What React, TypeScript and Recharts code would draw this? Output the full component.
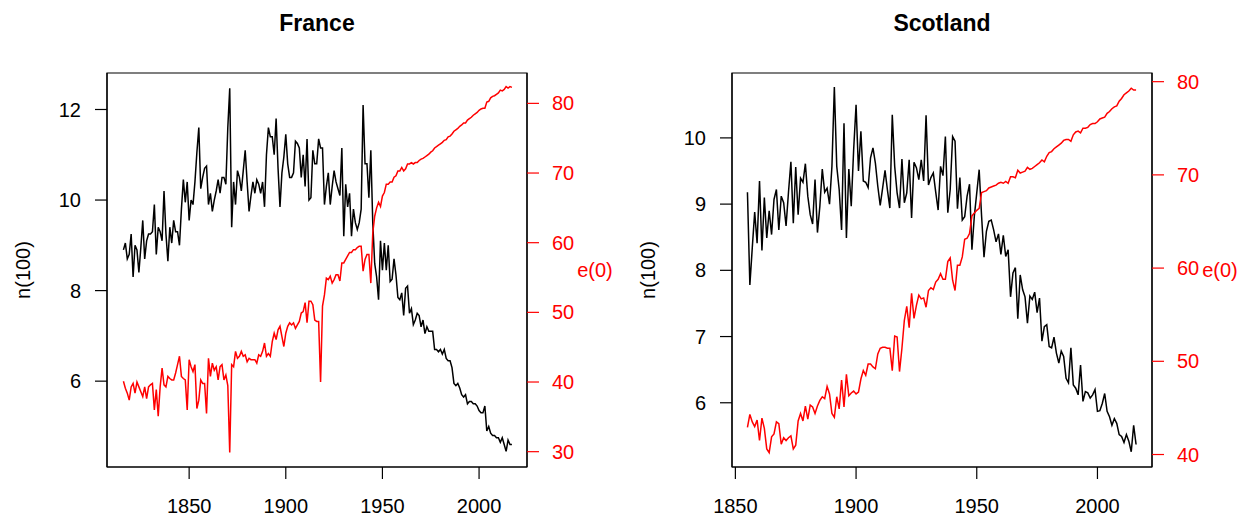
import { LineChart, Line, XAxis, YAxis, Label, ReferenceArea } from "recharts";

// France, 1816-2017
const franceStart = 1816;
const franceN = [
  8.9, 9.05, 8.7, 8.8, 9.25, 8.3, 9.0, 8.9, 8.4, 8.95,
  9.55, 8.7, 9.1, 9.25, 9.25, 9.3, 9.9, 8.8, 9.4, 9.3,
  9.1, 10.2, 9.25, 8.65, 9.4, 9.05, 9.55, 9.3, 9.3, 9.0,
  9.8, 10.45, 9.95, 10.4, 9.55, 10.0, 9.9, 10.4, 11.05, 11.6,
  10.25, 10.5, 10.7, 10.75, 9.9, 10.15, 9.75, 10.0, 10.2, 10.45,
  10.15, 10.5, 10.5, 10.35, 11.6, 12.47, 9.4, 10.4, 9.9, 10.65,
  10.5, 10.2, 10.65, 11.1, 10.4, 9.75, 10.1, 10.4, 10.15, 10.45,
  10.35, 10.15, 10.4, 9.85, 11.0, 11.6, 11.4, 11.4, 11.0, 11.8,
  10.7, 9.85, 10.6, 10.95, 11.45, 10.8, 10.5, 10.5, 10.6, 11.3,
  11.25, 11.15, 10.5, 11.0, 10.3, 11.35, 10.0, 10.05, 11.1, 10.8,
  10.8, 11.35, 11.15, 11.15, 9.9, 10.3, 10.6, 9.9, 10.3, 10.65,
  10.4, 10.25, 10.1, 11.15, 9.2, 10.35, 9.85, 10.15, 9.2, 9.8,
  9.5, 9.35, 9.5, 9.8, 12.1, 10.8, 10.8, 10.05, 11.1, 9.5,
  8.6, 8.3, 7.8, 9.1, 8.45, 9.05, 8.45, 9.0, 8.2, 8.25,
  8.7, 8.35, 7.85, 7.8, 7.95, 7.45, 8.05, 8.1, 7.5, 7.6,
  7.25, 7.35, 7.5, 7.45, 7.2, 7.35, 7.05, 7.2, 7.1, 7.1,
  7.1, 6.7, 6.7, 6.65, 6.7, 6.6, 6.7, 6.5, 6.45, 6.45,
  6.3, 5.95, 5.9, 5.95, 5.85, 5.7, 5.65, 5.7, 5.5, 5.55,
  5.55, 5.5, 5.5, 5.45, 5.35, 5.3, 5.3, 5.45, 4.9, 5.0,
  4.85, 4.8, 4.8, 4.75, 4.75, 4.65, 4.75, 4.6, 4.45, 4.7, 4.6, 4.6,
];
const franceE0 = [
  40.1, 39.1, 38.4, 37.4, 39.3, 39.8, 38.4, 40.0, 39.3, 38.6,
  37.9, 39.3, 37.6, 39.3, 39.6, 39.8, 36.0, 38.9, 35.1, 39.3,
  42.0, 39.6, 39.3, 40.8, 40.5, 40.3, 40.3, 41.3, 42.5, 43.7,
  40.8, 40.5, 40.3, 36.0, 43.2, 42.2, 41.5, 42.5, 36.2, 37.4,
  40.3, 39.8, 39.8, 35.5, 43.4, 40.8, 42.7, 41.7, 42.2, 40.3,
  42.2, 42.5, 40.3, 41.0, 39.5, 29.9, 42.5, 42.2, 44.4, 43.4,
  43.7, 44.4, 43.7, 43.9, 42.9, 43.4, 43.2, 43.2, 43.2, 42.7,
  43.9, 43.7, 44.4, 45.6, 43.7, 44.1, 43.7, 45.8, 47.0, 46.1,
  47.5, 48.0, 46.5, 45.1, 47.0, 48.0, 48.5, 48.2, 48.5, 47.7,
  48.2, 48.7, 49.9, 50.1, 51.4, 48.5, 51.6, 51.6, 51.1, 48.9,
  48.7, 48.7, 40.0, 50.9, 52.5, 54.9, 54.7, 55.2, 54.2, 54.7,
  55.4, 55.4, 54.5, 57.1, 57.1, 57.6, 58.1, 58.6, 58.6, 59.0,
  59.0, 59.3, 59.5, 59.5, 55.9, 57.6, 58.3, 58.3, 54.2, 61.4,
  63.8, 65.0, 65.8, 65.2, 66.7, 67.2, 68.4, 68.4, 68.7, 68.7,
  69.4, 69.6, 70.3, 70.3, 70.8, 70.3, 70.6, 71.3, 71.3, 71.5,
  71.3, 71.5, 71.5, 71.8, 72.0, 72.1, 72.3, 72.5, 72.7, 73.0,
  73.2, 73.6, 73.8, 74.0, 74.2, 74.4, 74.7, 74.8, 75.2, 75.3,
  75.6, 76.0, 76.2, 76.4, 76.7, 76.9, 77.2, 77.2, 77.6, 77.8,
  78.0, 78.3, 78.5, 78.7, 79.0, 79.2, 79.3, 79.3, 80.2, 80.3,
  80.8, 81.0, 81.1, 81.3, 81.5, 81.9, 81.8, 82.0, 82.4, 82.2, 82.4, 82.3,
];

// Scotland, 1855-2016
const scotlandStart = 1855;
const scotlandN = [
  9.18, 7.78, 8.34, 8.88, 8.41, 9.35, 8.3, 9.1, 8.49, 8.9,
  8.54, 9.07, 9.22, 8.61, 9.12, 9.02, 8.67, 9.18, 9.64, 8.71,
  9.56, 8.84, 9.39, 9.33, 9.61, 9.12, 8.84, 8.7, 9.37, 8.57,
  8.97, 9.53, 9.18, 9.24, 9.0, 9.57, 10.77, 9.57, 9.22, 8.61,
  10.22, 8.49, 9.53, 8.97, 9.82, 10.5, 9.5, 10.1, 9.35, 9.33,
  9.25, 9.7, 9.85, 9.62, 9.27, 8.98, 9.24, 9.51, 9.21, 8.94,
  10.35, 9.57, 9.17, 8.94, 9.68, 9.02, 9.17, 9.67, 8.79, 9.63,
  9.55, 9.37, 9.67, 9.35, 10.34, 9.29, 9.4, 9.47, 9.18, 8.91,
  9.57, 9.43, 10.02, 8.87, 9.22, 10.02, 9.95, 8.93, 9.4, 8.76,
  8.81, 9.12, 9.3, 8.31, 8.82, 9.17, 9.52, 8.82, 8.2, 8.59,
  8.74, 8.76, 8.61, 8.43, 8.55, 8.24, 8.53, 8.21, 8.31, 7.6,
  7.96, 8.04, 7.27, 7.93, 7.71, 7.6, 7.2, 7.61, 7.56, 7.67,
  7.36, 7.58, 6.93, 7.15, 7.18, 6.85, 6.83, 6.99, 6.75, 6.6,
  6.78, 6.7, 6.37, 6.3, 6.83, 6.27, 6.22, 6.12, 6.57, 6.02,
  6.17, 6.15, 6.07, 6.12, 6.2, 5.87, 5.88, 5.99, 6.14, 5.87,
  5.79, 5.66, 5.76, 5.69, 5.52, 5.49, 5.4, 5.52, 5.42, 5.26, 5.66, 5.37,
];
const scotlandE0 = [
  42.9, 44.3, 43.5, 43.0, 43.7, 41.5, 43.9, 42.8, 40.6, 40.2,
  41.9, 42.2, 43.5, 43.3, 41.1, 41.8, 41.5, 41.8, 42.0, 40.6,
  41.0, 43.6, 44.4, 43.6, 45.2, 43.8, 45.3, 45.1, 44.4, 45.2,
  45.8, 46.2, 46.0, 47.3, 46.5, 44.4, 44.0, 46.2, 44.9, 48.0,
  45.1, 48.6, 46.3, 46.6, 46.8, 46.5, 46.7, 48.1, 49.0, 48.5,
  49.7, 49.7, 49.4, 49.2, 50.8, 51.4, 51.5, 51.5, 51.4, 51.4,
  49.0, 52.7, 52.6, 48.9, 51.4, 54.4, 55.9, 53.6, 57.3, 54.6,
  56.0, 57.1, 56.7, 56.8, 55.8, 57.6, 57.9, 57.7, 58.5, 58.8,
  59.4, 58.8, 58.8, 60.7, 61.1, 58.7, 57.6, 60.3, 60.3, 61.2,
  63.1, 63.2, 63.7, 65.6, 65.9, 66.2, 66.4, 68.1, 68.2, 68.3,
  68.6, 68.7, 68.8, 68.9, 69.1, 69.2, 69.1, 69.3, 69.1, 69.8,
  69.8, 69.7, 70.5, 70.2, 70.3, 70.4, 70.8, 70.6, 70.7, 70.9,
  71.1, 71.3, 71.6, 71.4, 72.0, 72.4, 72.5, 72.8, 73.0, 73.2,
  73.4, 73.7, 73.8, 73.8, 73.6, 74.3, 74.6, 74.7, 74.5, 75.0,
  75.0, 75.1, 75.4, 75.5, 75.5, 75.7, 76.0, 76.1, 76.2, 76.6,
  76.8, 77.1, 77.3, 77.4, 77.9, 78.2, 78.6, 78.8, 79.0, 79.3, 79.1, 79.1,
];

const yearTicks = [1850, 1900, 1950, 2000];
const franceNTicks = [6, 8, 10, 12];
const franceETicks = [30, 40, 50, 60, 70, 80];
const scotlandNTicks = [6, 7, 8, 9, 10];
const scotlandETicks = [40, 50, 60, 70, 80];

const toRows = (start: number, n: number[], e: number[]) =>
  n.map((v, i) => ({ year: start + i, n: v, e: e[i] }));

const RED = "#ff0000";
const FONT = "'Liberation Sans', Arial, Helvetica, sans-serif";

type PanelProps = {
  title: string;
  data: { year: number; n: number; e: number }[];
  width: number;
  xDomain: [number, number];
  nDomain: [number, number];
  eDomain: [number, number];
  nTicks: number[];
  eTicks: number[];
};

const Panel = ({ title, data, width, xDomain, nDomain, eDomain, nTicks, eTicks }: PanelProps) => {
  const leftW = 107;
  const plotW = 420;
  const rightW = width - leftW - plotW;
  return (
    <LineChart
      width={width}
      height={519}
      data={data}
      margin={{ top: 73, right: 0, bottom: 0, left: 0 }}
      style={{ fontFamily: FONT }}
    >
      <XAxis
        dataKey="year"
        type="number"
        domain={xDomain}
        allowDataOverflow
        ticks={yearTicks}
        height={52}
        tickSize={12}
        tickMargin={20}
        tick={{ fill: "#000", fontSize: 20 }}
        tickLine={{ stroke: "#000", strokeWidth: 1.2 }}
        axisLine={{ stroke: "#000", strokeWidth: 1.2 }}
      />
      <YAxis
        yAxisId="n"
        type="number"
        domain={nDomain}
        allowDataOverflow
        ticks={nTicks}
        width={leftW}
        tickSize={12}
        tickMargin={14}
        tick={{ fill: "#000", fontSize: 20 }}
        tickLine={{ stroke: "#000", strokeWidth: 1.2 }}
        axisLine={{ stroke: "#000", strokeWidth: 1.2 }}
      >
        <Label
          content={(p: any) => {
            const vb = p.viewBox || { x: 0, y: 73, height: 394 };
            const cx = vb.x + 23;
            const cy = vb.y + vb.height / 2;
            return (
              <text
                x={cx}
                y={cy}
                transform={`rotate(-90 ${cx} ${cy})`}
                textAnchor="middle"
                dominantBaseline="central"
                fontSize={20}
                fill="#000"
                fontFamily={FONT}
              >
                n(100)
              </text>
            );
          }}
        />
      </YAxis>
      <YAxis
        yAxisId="e"
        orientation="right"
        type="number"
        domain={eDomain}
        allowDataOverflow
        ticks={eTicks}
        width={rightW}
        tickSize={12}
        tickMargin={13}
        tick={{ fill: RED, fontSize: 20 }}
        tickLine={{ stroke: RED, strokeWidth: 1.2 }}
        axisLine={{ stroke: "#000", strokeWidth: 1.2 }}
      >
        <Label
          content={(p: any) => {
            const vb = p.viewBox || { x: leftW + plotW, y: 73, height: 394 };
            return (
              <text
                x={vb.x + 68}
                y={vb.y + vb.height / 2}
                textAnchor="middle"
                dominantBaseline="central"
                fontSize={20}
                fill={RED}
                fontFamily={FONT}
              >
                e(0)
              </text>
            );
          }}
        />
      </YAxis>
      {/* plot box, with the panel title above it */}
      <ReferenceArea
        yAxisId="n"
        x1={xDomain[0]}
        x2={xDomain[1]}
        y1={nDomain[0]}
        y2={nDomain[1]}
        ifOverflow="visible"
        fill="none"
        fillOpacity={0}
        stroke="#000"
        strokeWidth={1.2}
        label={(p: any) => {
          const vb = p.viewBox || { x: leftW, width: plotW };
          return (
            <text
              x={vb.x + vb.width / 2}
              y={31}
              textAnchor="middle"
              fontSize={23}
              fontWeight="bold"
              fill="#000"
              fontFamily={FONT}
            >
              {title}
            </text>
          );
        }}
      />
      <Line
        yAxisId="n"
        dataKey="n"
        type="linear"
        stroke="#000"
        strokeWidth={1.5}
        dot={false}
        isAnimationActive={false}
      />
      <Line
        yAxisId="e"
        dataKey="e"
        type="linear"
        stroke={RED}
        strokeWidth={1.5}
        dot={false}
        isAnimationActive={false}
      />
    </LineChart>
  );
};

export default function App() {
  const france = toRows(franceStart, franceN, franceE0);
  const scotland = toRows(scotlandStart, scotlandN, scotlandE0);
  return (
    <div
      style={{
        position: "absolute",
        left: 0,
        top: 0,
        width: 1243,
        height: 519,
        background: "#fff",
        fontFamily: FONT,
      }}
    >
      <div style={{ position: "absolute", left: 0, top: 0 }}>
        <Panel
          title="France"
          data={france}
          width={622}
          xDomain={[1807.5, 2024.8]}
          nDomain={[4.104, 12.806]}
          eDomain={[27.8, 84.36]}
          nTicks={franceNTicks}
          eTicks={franceETicks}
        />
      </div>
      <div style={{ position: "absolute", left: 625, top: 0 }}>
        <Panel
          title="Scotland"
          data={scotland}
          width={618}
          xDomain={[1848.6, 2022.6]}
          nDomain={[5.03, 10.98]}
          eDomain={[38.66, 80.93]}
          nTicks={scotlandNTicks}
          eTicks={scotlandETicks}
        />
      </div>
    </div>
  );
}
